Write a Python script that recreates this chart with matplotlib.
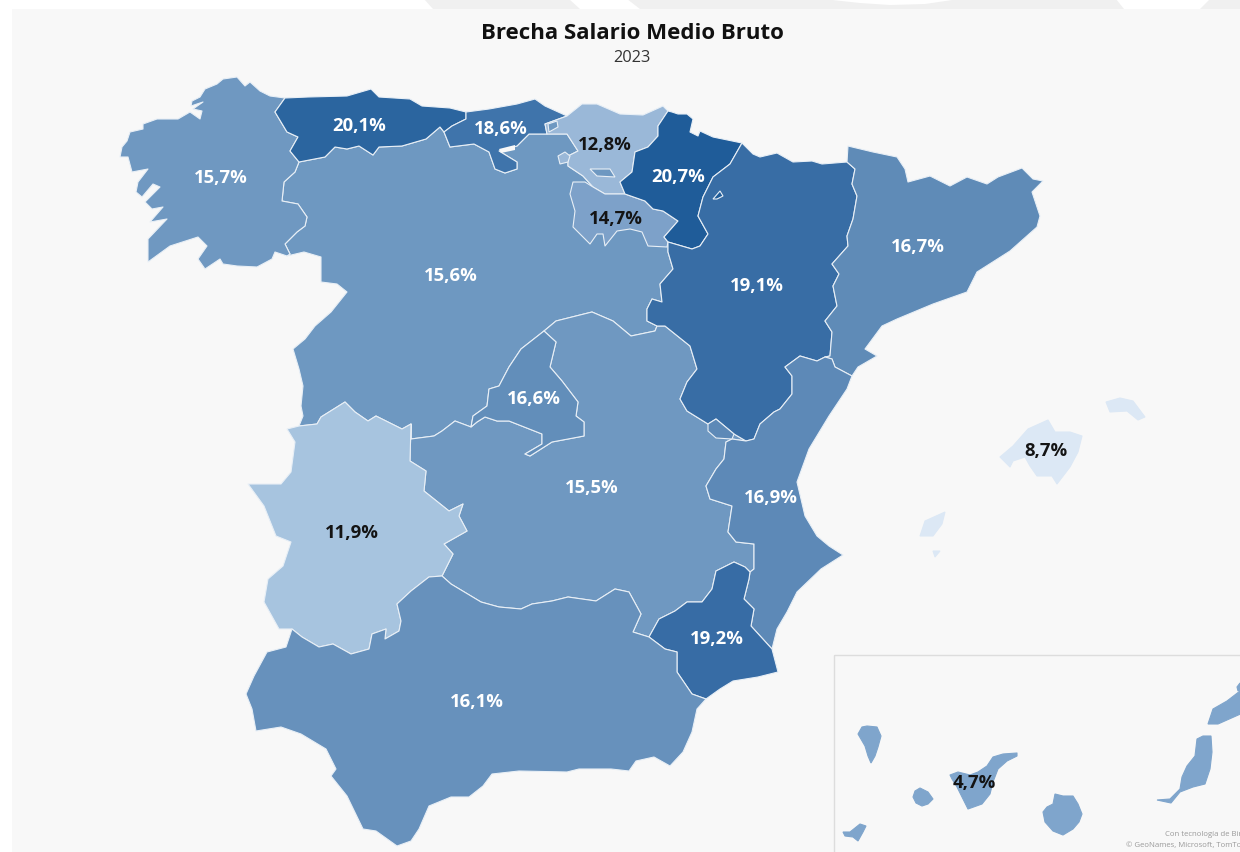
import matplotlib
matplotlib.use("Agg")
import matplotlib.pyplot as plt
from matplotlib.patches import Polygon, Rectangle

plt.rcParams['font.family'] = ['Open Sans', 'DejaVu Sans']

TITLE = "Brecha Salario Medio Bruto"
SUBTITLE = "2023"

# ---- data -----
regions = ["Galicia", "Asturias", "Cantabria", "País Vasco", "Navarra", "La Rioja", "Castilla y León",
           "Aragón", "Cataluña", "Madrid", "Castilla-La Mancha", "Extremadura", "C. Valenciana",
           "Murcia", "Andalucía", "Baleares", "Canarias"]
values = [15.7, 20.1, 18.6, 12.8, 20.7, 14.7, 15.6, 19.1, 16.7, 16.6, 15.5, 11.9, 16.9, 19.2, 16.1, 8.7, 4.7]
colors = ["#6f98c1", "#2b659f", "#3f74ab", "#9ab8d8", "#1f5c99", "#7da1c9", "#6e98c1", "#386da5", "#5f8bb7",
          "#628eba", "#6f98c1", "#a7c4df", "#5d89b7", "#376ca5", "#6791bc", "#dce8f5", "#7fa5cc"]
label_xy = [(221, 178), (359, 126), (501, 129), (605, 145), (678, 177), (616, 219), (451, 276), (757, 286),
            (918, 247), (534, 399), (592, 488), (352, 533), (771, 498), (717, 639), (477, 702), (1046, 451), (974, 783)]
label_dark = ["País Vasco", "La Rioja", "Extremadura", "Baleares", "Canarias"]

# ---- outlines, in picture coordinates -----
gal_coast = [(285,99),(270,97),(260,92),(250,83),(245,87),(237,78),(223,80),(217,85),(205,90),(200,98),(192,102),(191,107),
             (203,103),(193,110),(202,112),(200,120),(190,113),(178,120),(157,120),(143,125),(143,130),(130,133),(127,142),
             (122,148),(120,158),(128,158),(132,173),(148,170),(138,183),(136,193),(142,198),(153,185),(160,188),(145,203),
             (152,210),(163,208),(150,223),(167,220),(148,240),(148,263),(170,247),(198,238),(207,247),(198,260),(205,270),
             (220,260),(223,265),(237,267),(257,268),(272,260),(275,253),(287,257)]
gal_cyl = [(287,257),(290,255),(285,245),(297,233),(305,227),(307,218),(298,205),(282,202),(284,183),(295,173),(299,163)]
ast_gal = [(299,163),(290,152),(298,138),(287,133),(275,113),(285,99)]
ast_coast = [(285,99),(308,98),(347,97),(371,90),(379,98),(410,100),(422,107),(450,109),(466,113)]
ast_can = [(466,113),(466,120),(452,127),(444,133)]
ast_cyl = [(444,133),(440,128),(426,140),(402,147),(379,148),(373,156),(359,147),(347,150),(335,148),(325,158),(299,163)]
can_coast = [(466,113),(489,110),(517,105),(535,100),(545,107),(567,117)]
can_pv = [(567,117),(545,125),(547,135)]
can_cyl = [(547,135),(529,135),(517,147),(499,152),(517,163),(517,170),(505,174),(495,170),(489,153),(474,145),(450,148),(444,133)]
pv_coast = [(567,117),(582,105),(597,105),(620,115),(643,116),(663,107),(668,112)]
pv_nav = [(668,112),(658,127),(658,137),(648,148),(635,153),(632,173),(620,183),(625,195)]
pv_west = [(625,195),(605,195),(593,188),(583,177),(568,167),(568,157),(578,152),(567,135),(547,135)]
nav_coast = [(668,112),(672,113),(678,115),(687,115),(693,120),(690,133),(698,137),(700,132),(713,138),(742,144)]
nav_ara = [(742,144),(730,165),(713,178),(703,198),(698,217),(708,235),(700,247),(692,250),(668,243)]
rio_nav = [(668,243),(664,238),(678,222),(663,212),(653,210),(645,202),(625,195)]
rio_cyl = [(625,195),(605,195),(593,188),(585,183),(573,183),(570,195),(575,212),(573,228),(590,245),(597,235),(603,235),
           (605,247),(617,232),(630,230),(642,233),(648,247),(667,248),(668,243)]
ara_north = [(742,144),(753,155),(760,158),(777,154),(793,163),(812,162),(822,165),(847,163)]
ara_cat = [(847,163),(855,170),(852,185),(857,197),(853,220),(847,237),(848,247),(832,265),(839,275),(833,287),
           (837,307),(825,322),(832,333),(830,357),(825,358)]
ara_val = [(825,358),(817,362),(800,357),(785,368),(792,377),(792,395),(780,410),(774,413),(760,425),(754,440),(746,442)]
ara_clm = [(746,442),(734,435),(716,420),(708,425),(687,412),(680,400),(687,383),(697,370),(690,347),(665,327),(657,327)]
ara_cyl = [(657,327),(647,322),(647,310),(652,300),(662,303),(660,285),(673,270),(668,253),(668,243)]
cat_coast = [(847,163),(848,147),(873,153),(897,158),(905,170),(908,183),(930,177),(950,187),(967,178),(987,185),(998,178),
             (1022,169),(1033,180),(1043,182),(1032,193),(1040,217),(1037,228),(1010,252),(977,273),(967,293),(933,305),
             (897,320),(882,327),(865,350),(877,357),(858,368),(852,377)]
cat_val = [(852,377),(835,368),(832,360),(825,358)]
val_coast = [(852,377),(847,390),(829,417),(809,450),(797,483),(805,517),(817,537),(829,547),(843,556),(821,570),(797,593),
             (787,613),(777,630),(772,650)]
val_mur = [(772,650),(751,627),(754,610),(744,600),(749,580),(750,573)]
val_clm = [(750,573),(754,570),(754,545),(736,543),(728,533),(732,507),(710,500),(706,487),(716,470),(724,460),(726,443),(732,440),(746,442)]
mur_clm = [(750,573),(745,568),(734,563),(716,572),(712,590),(702,603),(687,603),(675,612),(659,620),(649,638)]
mur_and = [(649,638),(665,650),(677,653),(677,673),(692,695),(706,700)]
mur_coast = [(706,700),(720,690),(733,682),(758,678),(778,673),(772,650)]
clm_cyl = [(657,327),(655,332),(631,337),(613,322),(592,313),(556,322),(544,332)]
clm_mad = [(556,343),(550,368),(562,382),(578,403),(576,417),(584,423),(584,437),(552,443),(530,457),(525,455),(542,445),
           (542,435),(509,422),(497,422),(485,418),(477,423),(471,428)]
mad_cyl = [(544,332),(521,350),(509,368),(499,387),(489,390),(487,407),(473,417),(471,428)]
clm_cyl_west = [(471,428),(455,422),(442,432),(434,437),(411,440),(411,425)]
clm_ext = [(411,425),(410,462),(426,472),(424,492),(449,512),(463,505),(459,517),(467,532),(444,545),(453,555),(442,577)]
clm_and = [(442,577),(451,585),(481,603),(499,608),(521,610),(532,605),(552,602),(568,598),(596,602),(615,590),(629,593),
           (641,615),(633,633),(649,638)]
ext_cyl = [(411,425),(402,430),(376,417),(368,422),(355,413),(345,403),(321,418),(317,425),(299,427)]
ext_west = [(299,427),(287,430),(295,443),(291,473),(281,485),(248,485),(264,507),(276,537),(291,543),(283,567),(268,580),
            (264,603),(279,630),(292,630)]
ext_and = [(292,630),(302,638),(319,648),(333,645),(351,655),(369,650),(372,635),(386,630),(385,640),(399,632),(401,622),
           (397,605),(411,592),(429,578),(442,577)]
and_coast = [(706,700),(697,710),(692,733),(683,753),(670,767),(654,758),(636,762),(629,772),(611,770),(579,770),(567,773),
             (519,772),(492,775),(483,787),(469,798),(451,798),(429,807),(419,830),(411,842),(397,847),(376,832),(363,830),
             (347,797),(331,777),(336,770),(326,750),(301,735),(281,728),(256,732),(252,710),(246,695),(254,677),(267,653),
             (286,648),(292,630)]
cyl_port = [(299,427),(303,417),(301,407),(303,387),(299,370),(293,350),(305,340),(315,327),(331,313),(347,293),(337,285),
            (321,283),(321,258),(304,253),(287,257)]
mallorca = [(1000,458),(1013,447),(1028,430),(1048,421),(1055,433),(1070,433),(1082,437),(1078,453),(1070,468),(1057,485),
            (1052,477),(1037,477),(1030,467),(1025,458),(1013,462),(1010,468)]
menorca = [(1106,403),(1120,399),(1133,402),(1145,418),(1138,421),(1127,412),(1110,413)]
ibiza = [(920,537),(925,522),(945,513),(942,525),(933,537)]
formentera = [(933,552),(940,552),(935,558)]
la_palma = [(858,735),(862,728),(867,727),(877,728),(881,737),(878,748),(875,757),(871,764),(868,757),(865,747)]
gomera = [(913,798),(915,792),(920,789),(928,793),(933,800),(928,805),(922,807),(916,804)]
hierro = [(843,833),(850,833),(860,825),(866,827),(863,833),(858,842),(853,838),(845,837)]
tenerife = [(950,776),(958,773),(970,776),(978,773),(987,767),(993,758),(1003,755),(1017,754),(1017,757),(1007,762),(998,770),
            (993,783),(990,795),(982,805),(968,810),(963,800),(957,788),(952,780)]
gran_canaria = [(1043,813),(1047,808),(1053,805),(1055,795),(1063,797),(1073,797),(1078,805),(1082,815),(1079,823),(1073,830),
                (1063,836),(1053,832),(1045,823)]
fuerteventura = [(1157,801),(1170,800),(1180,790),(1182,778),(1187,767),(1195,757),(1197,740),(1203,737),(1211,737),(1212,753),
                 (1210,770),(1205,785),(1193,788),(1180,793),(1171,804)]
lanzarote = [(1208,725),(1213,710),(1227,702),(1240,692),(1245,680),(1245,713),(1218,725)]
graciosa = [(1237,688),(1240,684),(1242,690),(1238,692)]
trevino = [(590,170),(610,170),(615,178),(597,177)]
orduna = [(558,157),(565,153),(570,157),(568,163),(560,165)]
villaverde = [(548,125),(557,122),(558,128),(549,133)]
petilla = [(713,200),(720,192),(723,197),(717,200)]
ademuz = [(708,425),(716,420),(734,435),(732,440),(716,439),(708,432)]
ebro = [(499,150),(515,146),(515,151),(501,154)]
wedges = [[(424,0),(569,0),(580,10),(433,10)],
          [(627,0),(823,0),(860,4),(890,6),(925,5),(959,0),(1116,0),(1124,10),(640,10)],
          [(1210,0),(1240,0),(1240,10),(1200,10)]]

outlines = {
    "Galicia": gal_coast + gal_cyl + ast_gal,
    "Asturias": ast_coast + ast_can + ast_cyl + ast_gal,
    "Cantabria": can_coast + can_pv + can_cyl + ast_can[::-1],
    "País Vasco": pv_coast + pv_nav + pv_west + can_pv[::-1],
    "Navarra": nav_coast + nav_ara + rio_nav + pv_nav[::-1],
    "La Rioja": rio_cyl + rio_nav,
    "Castilla y León": ast_cyl[::-1] + can_cyl[::-1] + pv_west[::-1] + rio_nav[::-1] + ara_cyl[::-1] + clm_cyl + mad_cyl
                       + clm_cyl_west + ext_cyl + cyl_port + gal_cyl,
    "Aragón": ara_north + ara_cat + ara_val + ara_clm + ara_cyl + nav_ara[::-1],
    "Cataluña": cat_coast + cat_val + ara_cat[::-1],
    "Madrid": mad_cyl + clm_mad[::-1],
    "Castilla-La Mancha": clm_cyl + clm_mad + clm_cyl_west[1:] + clm_ext + clm_and + mur_clm[::-1] + val_clm + ara_clm,
    "Extremadura": ext_cyl + ext_west + ext_and + clm_ext[::-1],
    "C. Valenciana": val_coast + val_mur + val_clm + ara_val[::-1] + cat_val[::-1],
    "Murcia": mur_clm + mur_and + mur_coast + val_mur,
    "Andalucía": clm_and + mur_and + and_coast + ext_and,
    "Baleares": mallorca,
    "Canarias": tenerife,
}
extra_parts = [("Baleares", menorca), ("Baleares", ibiza), ("Baleares", formentera),
               ("Canarias", la_palma), ("Canarias", gomera), ("Canarias", hierro), ("Canarias", gran_canaria),
               ("Canarias", fuerteventura), ("Canarias", lanzarote), ("Canarias", graciosa),
               ("Castilla y León", trevino), ("Castilla y León", villaverde), ("País Vasco", orduna),
               ("Navarra", petilla), ("C. Valenciana", ademuz)]

fig = plt.figure(figsize=(12.4, 8.53), dpi=100, facecolor="white")
ax = fig.add_axes([0, 0, 1, 1])
ax.set_xlim(0, 1240)
ax.set_ylim(853, 0)
ax.axis("off")

ax.add_patch(Rectangle((12, 10), 1240, 860, facecolor="#f8f8f8", edgecolor="none", zorder=0))
for w in wedges:
    ax.add_patch(Polygon(w, closed=True, facecolor="#f0f0f0", edgecolor="none", zorder=0))
ax.add_patch(Rectangle((834, 656), 420, 210, facecolor="none", edgecolor="#dddddd", lw=1, zorder=1))

color_of = dict(zip(regions, colors))
order = ["Castilla y León", "Castilla-La Mancha", "Galicia", "Asturias", "Cantabria", "País Vasco", "La Rioja", "Navarra",
         "Aragón", "Cataluña", "C. Valenciana", "Madrid", "Extremadura", "Murcia", "Andalucía", "Baleares", "Canarias"]
for z, name in enumerate(order):
    no_edge = name in ("Baleares", "Canarias")
    ax.add_patch(Polygon(outlines[name], closed=True, facecolor=color_of[name],
                         edgecolor=color_of[name] if no_edge else "#e8eff6", lw=0.8, joinstyle="round", zorder=2 + z * 0.01))
for name, part in extra_parts:
    no_edge = name in ("Baleares", "Canarias")
    ax.add_patch(Polygon(part, closed=True, facecolor=color_of[name],
                         edgecolor=color_of[name] if no_edge else "#e8eff6", lw=0.8, zorder=3))
ax.add_patch(Polygon(ebro, closed=True, facecolor="#f8f8f8", edgecolor="none", zorder=3))

for name, v, (x, y) in zip(regions, values, label_xy):
    ax.text(x, y, f"{v:.1f}".replace(".", ",") + "%", ha="center", va="center", fontsize=13.3, fontweight="bold",
            color="#141414" if name in label_dark else "white", zorder=5)

ax.text(632, 33, TITLE, ha="center", va="center", fontsize=16, fontweight="bold", color="#111111", zorder=5)
ax.text(632, 57.5, SUBTITLE, ha="center", va="center", fontsize=11.8, color="#333333", zorder=5)
ax.text(1165, 835, "Con tecnología de Bing", ha="left", va="center", fontsize=5.6, color="#9a9a9a", zorder=5)
ax.text(1126, 846, "© GeoNames, Microsoft, TomTom", ha="left", va="center", fontsize=5.6, color="#9a9a9a", zorder=5)

fig.savefig("out.png", dpi=100, facecolor="white")
